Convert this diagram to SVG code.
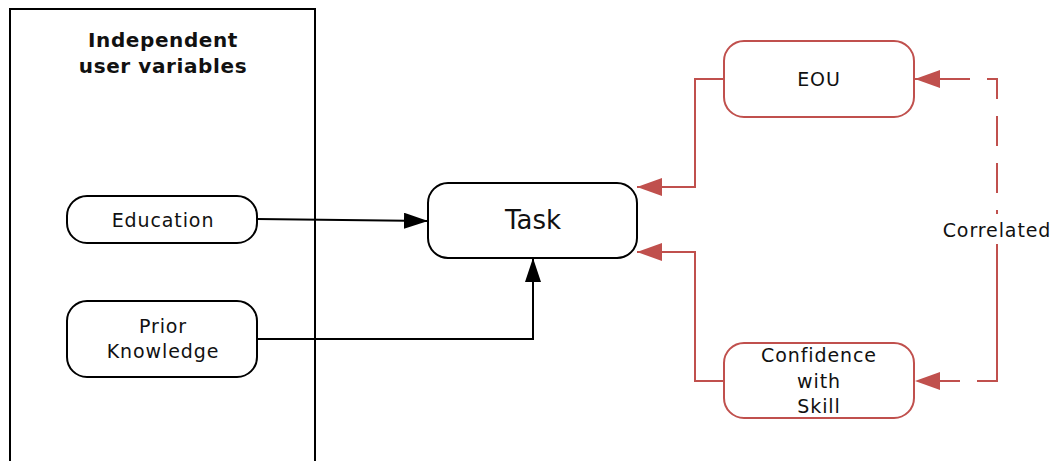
<svg xmlns="http://www.w3.org/2000/svg" width="1061" height="461" viewBox="0 0 1061 461">
  <style>
    text { font-family: "DejaVu Sans", "Liberation Sans", sans-serif; fill: #111; text-anchor: middle; }
    .lbl { font-size: 19px; letter-spacing: 0.9px; }
    .title { font-size: 20px; font-weight: bold; letter-spacing: 0.6px; }
    .box { fill: #fff; stroke: #000; stroke-width: 2; }
    .rbox { fill: #fff; stroke: #C0504D; stroke-width: 2; }
    .blk { fill: none; stroke: #000; stroke-width: 2; }
    .red { fill: none; stroke: #C0504D; stroke-width: 2; }
    .dash { stroke-dasharray: 30 17; }
  </style>
  <defs>
    <marker id="ahBlack" viewBox="0 0 24 16" refX="24" refY="8" markerWidth="24" markerHeight="16" markerUnits="userSpaceOnUse" orient="auto">
      <path d="M0,0 L24,8 L0,16 Z" fill="#000"/>
    </marker>
    <marker id="ahRed" viewBox="0 0 25 18" refX="25" refY="9" markerWidth="25" markerHeight="18" markerUnits="userSpaceOnUse" orient="auto">
      <path d="M0,0 L25,9 L0,18 Z" fill="#C0504D"/>
    </marker>
  </defs>

  <g id="user-variables">
    <rect x="10" y="9" width="305" height="460" fill="#fff" stroke="#000" stroke-width="2"/>
    <text class="title" x="163" y="47">Independent</text>
    <text class="title" x="163" y="73">user variables</text>
  </g>

  <g id="connectors">
    <path class="blk" d="M257,219 L428,221" marker-end="url(#ahBlack)"/>
    <path class="blk" d="M257,339 L533,339 L533,258" marker-end="url(#ahBlack)"/>
    <path class="red" d="M724,79 L695,79 L695,187 L637,187" marker-end="url(#ahRed)"/>
    <path class="red" d="M724,381 L695,381 L695,252 L637,252" marker-end="url(#ahRed)"/>
    <path class="red dash" d="M997,381 L997,79 L915,79" marker-end="url(#ahRed)"/>
    <path class="red dash" d="M997,230 L997,381 L915,381" marker-end="url(#ahRed)"/>
    <rect x="942" y="214" width="112" height="30" fill="#fff"/>
    <text class="lbl" x="997" y="237">Correlated</text>
  </g>

  <g id="education">
    <rect class="box" x="67" y="196" width="190" height="47" rx="20"/>
    <text class="lbl" x="163" y="227">Education</text>
  </g>

  <g id="prior-knowledge">
    <rect class="box" x="67" y="301" width="190" height="76" rx="20"/>
    <text class="lbl" x="163" y="333">Prior</text>
    <text class="lbl" x="163" y="358">Knowledge</text>
  </g>

  <g id="task">
    <rect class="box" x="428" y="183" width="209" height="75" rx="20"/>
    <text x="533" y="229" font-size="26">Task</text>
  </g>

  <g id="eou">
    <rect class="rbox" x="724" y="41" width="190" height="76" rx="20"/>
    <text class="lbl" x="819" y="86">EOU</text>
  </g>

  <g id="confidence">
    <rect class="rbox" x="724" y="343" width="190" height="75" rx="20"/>
    <text class="lbl" x="819" y="362">Confidence</text>
    <text class="lbl" x="819" y="388">with</text>
    <text class="lbl" x="819" y="413">Skill</text>
  </g>
</svg>
